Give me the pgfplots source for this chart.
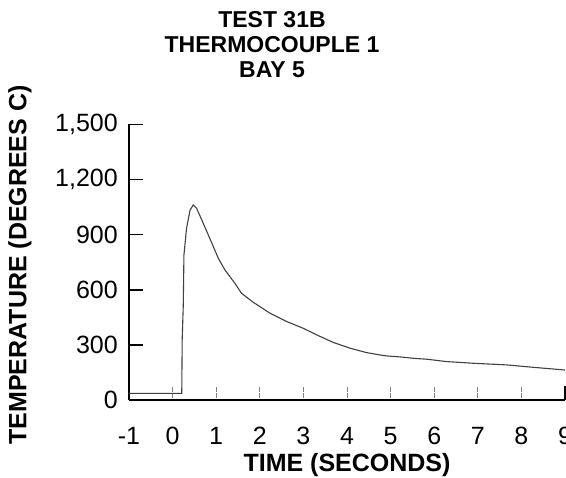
\documentclass[border=0pt]{standalone}
\usepackage{fontspec}
\setmainfont{Liberation Sans}
\usepackage{pgfplots}
\pgfplotsset{compat=1.18}

\begin{document}
\begin{tikzpicture}
\useasboundingbox (0,0) rectangle (566pt,478pt);
\begin{axis}[
    at={(129pt,78pt)}, anchor=south west,
    scale only axis, width=436pt, height=275.5pt,
    xmin=-1, xmax=9, ymin=0, ymax=1500,
    axis lines*=left,
    axis line style={line width=1.5pt, black},
    tick align=inside,
    major tick length=14pt,
    xtick={-1,0,...,8},
    extra x ticks={9},
    extra x tick style={xtick style={black, solid, line width=1.5pt}},
    ytick={0,300,...,1500},
    xtick style={gray, densely dotted, line width=0.8pt},
    ytick style={black, line width=1.5pt},
    /pgf/number format/assume math mode=true,
    /pgf/number format/1000 sep={,},
    ticklabel style={font=\fontsize{25}{25}\selectfont, inner sep=0pt},
    xticklabel style={anchor=north, yshift=-27pt},
    yticklabel style={anchor=east, xshift=-11pt},
    title={TEST 31B\\THERMOCOUPLE 1\\BAY 5},
    title style={font=\bfseries\fontsize{23}{25}\selectfont, align=center,
                 inner sep=0pt, anchor=north,
                 at={(axis description cs:0.328,1.39)}},
    xlabel={TIME (SECONDS)},
    xlabel style={font=\bfseries\fontsize{25}{25}\selectfont, inner sep=0pt,
                  anchor=base, at={(axis description cs:0.5,-0.2613)}},
    ylabel={TEMPERATURE (DEGREES C)},
    ylabel style={font=\bfseries\fontsize{25}{25}\selectfont, inner sep=0pt,
                  anchor=center, at={(axis description cs:-0.25,0.49)}},
  ]
  \addplot[black!75, line width=1.1pt] coordinates {
    (-1,36)(0.21,36)(0.22,330)(0.245,517)(0.26,789)(0.32,935)
    (0.40,1034)(0.475,1062)(0.55,1044)(0.67,980)(0.82,898)
    (1.05,771)(1.20,708)(1.43,635)(1.58,581)(1.85,532)
    (2.23,473)(2.62,427)(3.00,390)(3.30,355)(3.69,313)
    (4.07,282)(4.45,258)(4.76,245)(4.91,240)(5.29,233)
    (5.52,227)(5.83,222)(6.29,209)(6.90,200)(7.66,191)
    (8.27,178)(8.96,164)(9,163)
  };
\end{axis}
\end{tikzpicture}
\end{document}
